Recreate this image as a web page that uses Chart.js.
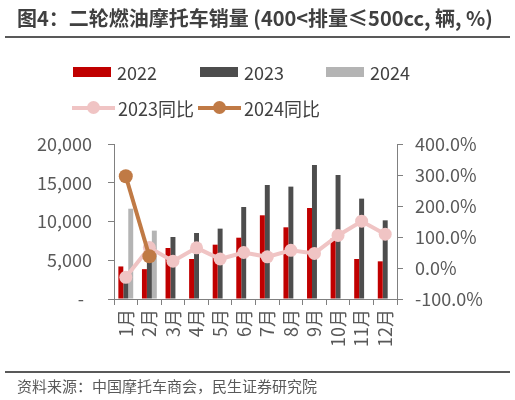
<!DOCTYPE html>
<html>
<head>
<meta charset="utf-8">
<script src="https://cdn.jsdelivr.net/npm/chart.js@4/dist/chart.umd.min.js"></script>
<style>
  body { margin: 0; width: 515px; height: 400px; background: #fff; overflow: hidden; position: relative;
         font-family: 'Noto Sans CJK SC', 'Noto Sans', sans-serif; }
  #cv { position: absolute; left: 0; top: 0; }
  .title { position: absolute; left: 17px; top: 3px; font-size: 20px; font-weight: bold; color: #404040; white-space: nowrap; }
  .rule { position: absolute; left: 5px; width: 505px; height: 2px; background: #595959; }
  .src { position: absolute; left: 17px; top: 375px; font-size: 15px; color: #595959; white-space: nowrap; }
  .lg { position: absolute; font-size: 18px; color: #404040; display: flex; align-items: center; white-space: nowrap; }
  .box { width: 38px; height: 10px; margin-right: 6px; }
  .ln { position: relative; width: 43px; height: 4px; margin-right: 3px; }
  .ln i { position: absolute; left: 15px; top: -5px; width: 13px; height: 13px; border-radius: 50%; }
</style>
</head>
<body>
<canvas id="cv" width="515" height="400"></canvas>
<div class="title">图4：二轮燃油摩托车销量 (400&lt;排量≤500cc, 辆, %)</div>
<div class="rule" style="top:36px"></div>
<div id="legend"></div>
<div class="rule" style="top:371px"></div>
<div class="src">资料来源：中国摩托车商会，民生证券研究院</div>
<script>
const months = ['1月','2月','3月','4月','5月','6月','7月','8月','9月','10月','11月','12月'];
const sales2022 = [4200, 3850, 6580, 5160, 7010, 7910, 10800, 9250, 11740, 7800, 5160, 4860];
const sales2023 = [2940, 6390, 8000, 8520, 9080, 11870, 14710, 14500, 17290, 16000, 12950, 10150];
const sales2024 = [11650, 8820, null, null, null, null, null, null, null, null, null, null];
const yoy2023 = [-30, 66, 22, 65, 29, 50, 36, 57, 47, 105, 151, 109];
const yoy2024 = [296, 38, null, null, null, null, null, null, null, null, null, null];

const colors = {
  c2022: '#C00000',
  c2023: '#4D4D4D',
  c2024: '#B4B4B4',
  y2023: '#F0C4C4',
  y2024: '#C07A45'
};

// legend in html, grid like the original
const legendItems = [
  { text: '2022', type: 'box', color: colors.c2022, x: 73, y: 72 },
  { text: '2023', type: 'box', color: colors.c2023, x: 200, y: 72 },
  { text: '2024', type: 'box', color: colors.c2024, x: 326, y: 72 },
  { text: '2023同比', type: 'line', color: colors.y2023, x: 72, y: 108 },
  { text: '2024同比', type: 'line', color: colors.y2024, x: 198, y: 108 }
];
let html = '';
legendItems.forEach(function(it){
  let mark;
  if (it.type === 'box') {
    mark = '<span class="box" style="background:' + it.color + '"></span>';
  } else {
    mark = '<span class="ln" style="background:' + it.color + '"><i style="background:' + it.color + '"></i></span>';
  }
  html += '<div class="lg" style="left:' + it.x + 'px;top:' + (it.y - 13) + 'px;height:26px">' + mark + it.text + '</div>';
});
document.getElementById('legend').innerHTML = html;

function fmt(v) {
  if (v === 0) return '-   ';
  return String(v).replace(/\B(?=(\d{3})+(?!\d))/g, ',') + ' ';
}

const tickFont = { family: "'Noto Sans CJK SC', 'Noto Sans', sans-serif", size: 18 };
const axisColor = '#808080';

const data = {
  labels: months,
  datasets: [
    { type: 'line', label: '2024同比', data: yoy2024, yAxisID: 'y1', order: 0,
      borderColor: colors.y2024, backgroundColor: colors.y2024, borderWidth: 4,
      pointRadius: 7, pointBorderWidth: 0, pointBackgroundColor: colors.y2024, tension: 0 },
    { type: 'line', label: '2023同比', data: yoy2023, yAxisID: 'y1', order: 1,
      borderColor: colors.y2023, backgroundColor: colors.y2023, borderWidth: 4,
      pointRadius: 6.5, pointBorderWidth: 0, pointBackgroundColor: colors.y2023, tension: 0 },
    { type: 'bar', label: '2022', data: sales2022, yAxisID: 'y', order: 2, backgroundColor: colors.c2022 },
    { type: 'bar', label: '2023', data: sales2023, yAxisID: 'y', order: 2, backgroundColor: colors.c2023 },
    { type: 'bar', label: '2024', data: sales2024, yAxisID: 'y', order: 2, backgroundColor: colors.c2024 }
  ]
};

const config = {
  type: 'bar',
  data: data,
  options: {
    responsive: false,
    animation: false,
    devicePixelRatio: 1,
    layout: { padding: { top: 144, bottom: 31, left: 0, right: 0 } },
    datasets: { bar: { categoryPercentage: 0.63, barPercentage: 1.0 } },
    plugins: { legend: { display: false }, tooltip: { enabled: false } },
    scales: {
      x: {
        offset: true,
        grid: { drawOnChartArea: false, drawTicks: true, tickLength: 6, color: axisColor, offset: true },
        border: { display: true, color: axisColor },
        ticks: { color: '#595959', font: tickFont, minRotation: 90, maxRotation: 90, padding: 4, autoSkip: false },
        afterFit: function(s){ s.height = 70; }
      },
      y: {
        position: 'left', min: 0, max: 20000,
        grid: { drawOnChartArea: false, drawTicks: true, tickLength: 6, color: axisColor },
        border: { display: true, color: axisColor },
        ticks: { stepSize: 5000, color: '#595959', font: tickFont, padding: 12, callback: fmt },
        afterFit: function(s){ s.width = 114; }
      },
      y1: {
        position: 'right', min: -100, max: 400,
        grid: { drawOnChartArea: false, drawTicks: true, tickLength: 6, color: axisColor },
        border: { display: true, color: axisColor },
        ticks: { stepSize: 100, color: '#595959', font: tickFont, padding: 12,
                 callback: function(v){ return v.toFixed(1) + '%'; } },
        afterFit: function(s){ s.width = 118; }
      }
    }
  }
};

new Chart(document.getElementById('cv'), config);
</script>
</body>
</html>
